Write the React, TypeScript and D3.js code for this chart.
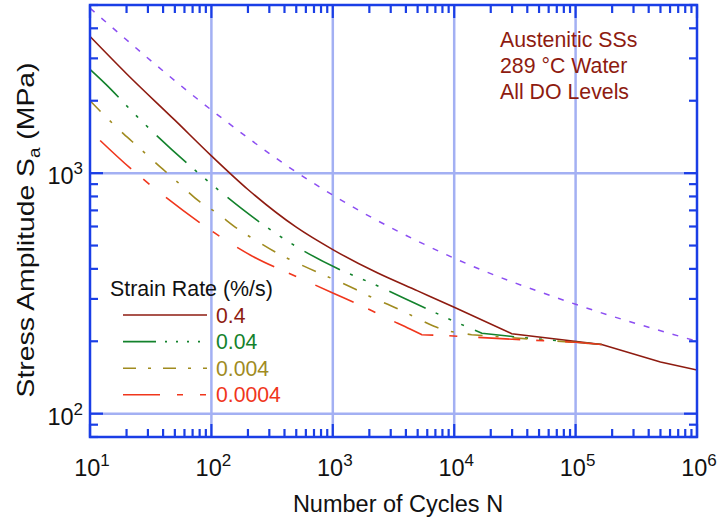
import React from "react";
import * as d3 from "d3";

// S-N curves: [cycles, stress amplitude in MPa]
const airCurve: [number, number][] = [
  [10, 4850], [100, 1830], [516, 1000], [1000, 810], [10000, 443], [100000, 285], [1000000, 200],
];
const rate04: [number, number][] = [
  [10, 3700], [20, 2590], [50, 1660], [100, 1180], [200, 855], [500, 596], [1000, 481],
  [2300, 386], [5000, 324], [10000, 277], [29800, 215], [164000, 194], [500000, 164], [1000000, 152],
];
const rate004: [number, number][] = [
  [10, 2700], [13.4, 2350], [24.5, 1717], [100, 900], [248, 627], [458, 509], [1062, 404],
  [2000, 352], [4750, 288], [8670, 250], [16900, 216], [37100, 207], [164000, 194],
];
const rate0004: [number, number][] = [
  [10, 2000], [19, 1453], [24.5, 1296], [40, 1036], [50.5, 935], [80.5, 759], [107, 691],
  [174, 575], [219, 535], [363, 460], [458, 434], [1553, 328], [2000, 308], [3310, 275],
  [4190, 260], [6820, 231], [8670, 221], [13900, 213], [164000, 194],
];
const rate00004: [number, number][] = [
  [10, 1500], [24.5, 990], [32.8, 877], [107, 563], [142, 513], [224, 448], [458, 379],
  [1010, 317], [2000, 271], [2720, 251], [4330, 225], [5400, 213], [8700, 211],
  [30000, 204], [100000, 198], [164000, 194],
];
// cycles where each curve bends sharply (smooth before, straight segments after)
const kinks = [29800, 16900, 8670, 5400];

const legendLabels = ["0.4", "0.04", "0.004", "0.0004"];
const xMajors = [10, 100, 1000, 10000, 100000, 1000000];
const yMajors = [100, 1000];
const noteLines = ["Austenitic SSs", "289 °C Water", "All DO Levels"];

const W = 717;
const H = 519;
const margin = { top: 5, right: 20, bottom: 82, left: 90 };
const font = "'Liberation Sans', Arial, sans-serif";
const frameColor = "#1a3ee6";
const gridColor = "#a3b0f3";

const series = [
  { data: rate04, color: "#8e1b10", dash: null, legendDash: null, offset: 0 },
  { data: rate004, color: "#13822c", dash: "40,11,3,11,3,11,3,12", legendDash: "33,9,2,9,2,9,2,9,2,9", offset: 0 },
  { data: rate0004, color: "#a08b1f", dash: "15,13,3,14", legendDash: "13,12,3,12", offset: 0 },
  { data: rate00004, color: "#f0361c", dash: "42,16,8,21", legendDash: "37,17,6,17,6", offset: 73 },
];

export default function App() {
  const x = d3.scaleLog().domain([10, 1e6]).range([margin.left, W - margin.right]);
  const y = d3.scaleLog().domain([80, 5000]).range([H - margin.bottom, margin.top]);
  const [x0, x1] = x.range();
  const [y0, y1] = y.range();

  const line = d3.line<[number, number]>().x(d => x(d[0])).y(d => y(d[1]));
  const smooth = d3.line<[number, number]>().x(d => x(d[0])).y(d => y(d[1])).curve(d3.curveMonotoneX);

  // one continuous path so the dash pattern runs on through the bend
  const curvePath = (data: [number, number][], kink: number) => {
    const head = data.filter(d => d[0] <= kink);
    const tail = data.filter(d => d[0] >= kink);
    return (smooth(head) || "") + (line(tail) || "").replace(/^M/, "L");
  };

  const xMinors: number[] = [];
  xMajors.slice(0, -1).forEach(m => { for (let k = 2; k < 10; k++) xMinors.push(m * k); });
  const yMinors: number[] = [80, 90];
  [100, 1000].forEach(m => { for (let k = 2; k < 10; k++) if (m * k <= 5000) yMinors.push(m * k); });

  const sup = (v: number) => String(Math.round(Math.log10(v)));

  return (
    <svg width={W} height={H} style={{ position: "absolute", left: 0, top: 0, background: "#fff" }}>
      <defs>
        <clipPath id="plot">
          <rect x={x0} y={y1} width={x1 - x0} height={y0 - y1} />
        </clipPath>
      </defs>

      {/* grid */}
      {xMajors.slice(1, -1).map(v => (
        <line key={"gx" + v} x1={x(v)} x2={x(v)} y1={y1} y2={y0} stroke={gridColor} strokeWidth={2.5} />
      ))}
      {yMajors.map(v => (
        <line key={"gy" + v} x1={x0} x2={x1} y1={y(v)} y2={y(v)} stroke={gridColor} strokeWidth={2.5} />
      ))}

      {/* curves */}
      <g clipPath="url(#plot)" fill="none">
        <path d={smooth(airCurve) || ""} stroke="#8c4ef2" strokeWidth={1.5} strokeDasharray="6,9" />
        {series.map((s, i) => (
          <path
            key={i}
            d={curvePath(s.data, kinks[i])}
            stroke={s.color}
            strokeWidth={1.6}
            strokeDasharray={s.dash || undefined}
            strokeDashoffset={s.offset}
          />
        ))}
      </g>

      {/* ticks */}
      <g stroke={frameColor} strokeWidth={2.2}>
        {xMinors.map(v => (
          <g key={"tx" + v}>
            <line x1={x(v)} x2={x(v)} y1={y0} y2={y0 - 8} />
            <line x1={x(v)} x2={x(v)} y1={y1} y2={y1 + 8} />
          </g>
        ))}
        {xMajors.map(v => (
          <g key={"txm" + v}>
            <line x1={x(v)} x2={x(v)} y1={y0} y2={y0 - 13} />
            <line x1={x(v)} x2={x(v)} y1={y1} y2={y1 + 13} />
          </g>
        ))}
        {yMinors.map(v => (
          <g key={"ty" + v}>
            <line x1={x0} x2={x0 + 8} y1={y(v)} y2={y(v)} />
            <line x1={x1} x2={x1 - 8} y1={y(v)} y2={y(v)} />
          </g>
        ))}
        {yMajors.map(v => (
          <g key={"tym" + v}>
            <line x1={x0} x2={x0 + 13} y1={y(v)} y2={y(v)} />
            <line x1={x1} x2={x1 - 13} y1={y(v)} y2={y(v)} />
          </g>
        ))}
      </g>
      <rect x={x0} y={y1} width={x1 - x0} height={y0 - y1} fill="none" stroke={frameColor} strokeWidth={2.5} />

      {/* tick labels */}
      <g fontFamily={font} fill="#111">
        {xMajors.map(v => (
          <text key={"lx" + v} x={x(v) + 2} y={476} textAnchor="middle" fontSize={23.5}>
            10<tspan fontSize={17} dy={-10}>{sup(v)}</tspan>
          </text>
        ))}
        {yMajors.map(v => (
          <text key={"ly" + v} x={83} y={y(v) + 11} textAnchor="end" fontSize={23.5}>
            10<tspan fontSize={17} dy={-10}>{sup(v)}</tspan>
          </text>
        ))}
        <text x={398} y={512} textAnchor="middle" fontSize={23.5}>Number of Cycles N</text>
        <text transform="translate(34,230) rotate(-90)" textAnchor="middle" fontSize={24}
          textLength={335} lengthAdjust="spacingAndGlyphs">
          Stress Amplitude S<tspan fontSize={16} dy={6}>a</tspan><tspan dy={-6}> (MPa)</tspan>
        </text>
      </g>

      {/* annotation */}
      <g fontFamily={font} fontSize={21.3} fill="#8e1b10">
        {noteLines.map((t, i) => (
          <text key={t} x={500} y={47 + i * 25.8}>{t}</text>
        ))}
      </g>

      {/* legend */}
      <g fontFamily={font}>
        <text x={110} y={296} fontSize={21.4} fill="#111">Strain Rate (%/s)</text>
        {series.map((s, i) => (
          <g key={"lg" + i} transform={`translate(0,${315 + i * 26.6})`}>
            <line x1={123} x2={207} y1={0} y2={0} stroke={s.color} strokeWidth={1.6}
              strokeDasharray={s.legendDash || undefined} />
            <text x={216} y={7.5} fontSize={21.2} fill={s.color}>{legendLabels[i]}</text>
          </g>
        ))}
      </g>
    </svg>
  );
}
